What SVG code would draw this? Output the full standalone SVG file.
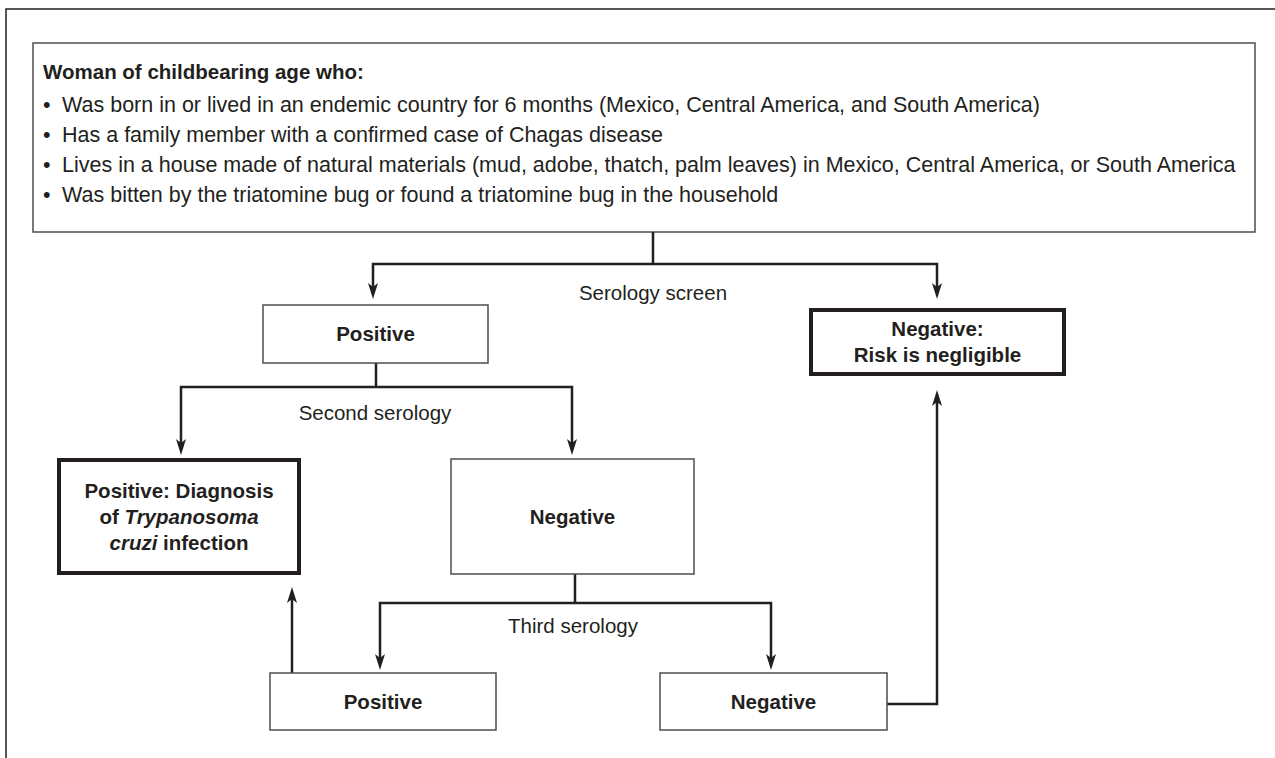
<svg xmlns="http://www.w3.org/2000/svg" width="1275" height="758" viewBox="0 0 1275 758">
<style>
text{font-family:"Liberation Sans",Arial,Helvetica,sans-serif;fill:#231f20;font-size:20.5px}
.bl{font-size:21.5px}
.t{font-size:20.5px;font-weight:bold}
.b{font-weight:bold}
.c{text-anchor:middle}
.thin{fill:#fff;stroke:#4d4d4f;stroke-width:1.5}
.thick{fill:#fff;stroke:#231f20;stroke-width:4}
.ln{fill:none;stroke:#231f20;stroke-width:2.5}
.ar{marker-end:url(#ah)}
</style>
<defs>
<marker id="ah" markerUnits="userSpaceOnUse" viewBox="0 0 16 10" markerWidth="16" markerHeight="10" refX="10" refY="5" orient="auto">
<path d="M0,0 L16,5 L0,10 L4,5 z" fill="#231f20"/>
</marker>
</defs>
<g id="frame">
<path d="M6,758 V9 H1275" fill="none" stroke="#231f20" stroke-width="1.5"/>
</g>
<g id="criteria">
<rect class="thin" x="33" y="43" width="1222" height="189"/>
<text class="t" x="43" y="79">Woman of childbearing age who:</text>
<text class="bl" x="43" y="112">•</text><text class="bl" x="62" y="112">Was born in or lived in an endemic country for 6 months (Mexico, Central America, and South America)</text>
<text class="bl" x="43" y="142">•</text><text class="bl" x="62" y="142">Has a family member with a confirmed case of Chagas disease</text>
<text class="bl" x="43" y="172">•</text><text class="bl" x="62" y="172">Lives in a house made of natural materials (mud, adobe, thatch, palm leaves) in Mexico, Central America, or South America</text>
<text class="bl" x="43" y="202">•</text><text class="bl" x="62" y="202">Was bitten by the triatomine bug or found a triatomine bug in the household</text>
</g>
<g id="connectors">
<path class="ln" d="M653,232 V264"/>
<path class="ln ar" d="M653,264 H373 V293"/>
<path class="ln ar" d="M653,264 H937 V293"/>
<path class="ln" d="M376,363 V387"/>
<path class="ln ar" d="M376,387 H181 V449"/>
<path class="ln ar" d="M376,387 H572 V449"/>
<path class="ln" d="M575,574 V603"/>
<path class="ln ar" d="M575,603 H380 V664"/>
<path class="ln ar" d="M575,603 H771 V664"/>
<path class="ln ar" d="M292,673 V593"/>
<path class="ln ar" d="M887,704 H937 V396"/>
</g>
<g id="labels">
<text class="c" x="653" y="300">Serology screen</text>
<text class="c" x="375" y="420">Second serology</text>
<text class="c" x="573" y="633">Third serology</text>
</g>
<g id="pos1">
<rect class="thin" x="263" y="305" width="225" height="58"/>
<text class="b c" x="375.5" y="341">Positive</text>
</g>
<g id="negrisk">
<rect class="thick" x="811" y="310" width="253" height="64"/>
<text class="b c" x="937.5" y="336">Negative:</text>
<text class="b c" x="937.5" y="362">Risk is negligible</text>
</g>
<g id="diagnosis">
<rect class="thick" x="59" y="460" width="240" height="113"/>
<text class="b c" x="179" y="498">Positive: Diagnosis</text>
<text class="b c" x="179" y="524">of <tspan font-style="italic">Trypanosoma</tspan></text>
<text class="b c" x="179" y="550"><tspan font-style="italic">cruzi</tspan> infection</text>
</g>
<g id="neg2">
<rect class="thin" x="451" y="459" width="243" height="115"/>
<text class="b c" x="572.5" y="524">Negative</text>
</g>
<g id="pos3">
<rect class="thin" x="270" y="673" width="226" height="57"/>
<text class="b c" x="383" y="709">Positive</text>
</g>
<g id="neg3">
<rect class="thin" x="660" y="673" width="227" height="57"/>
<text class="b c" x="773.5" y="709">Negative</text>
</g>
</svg>
